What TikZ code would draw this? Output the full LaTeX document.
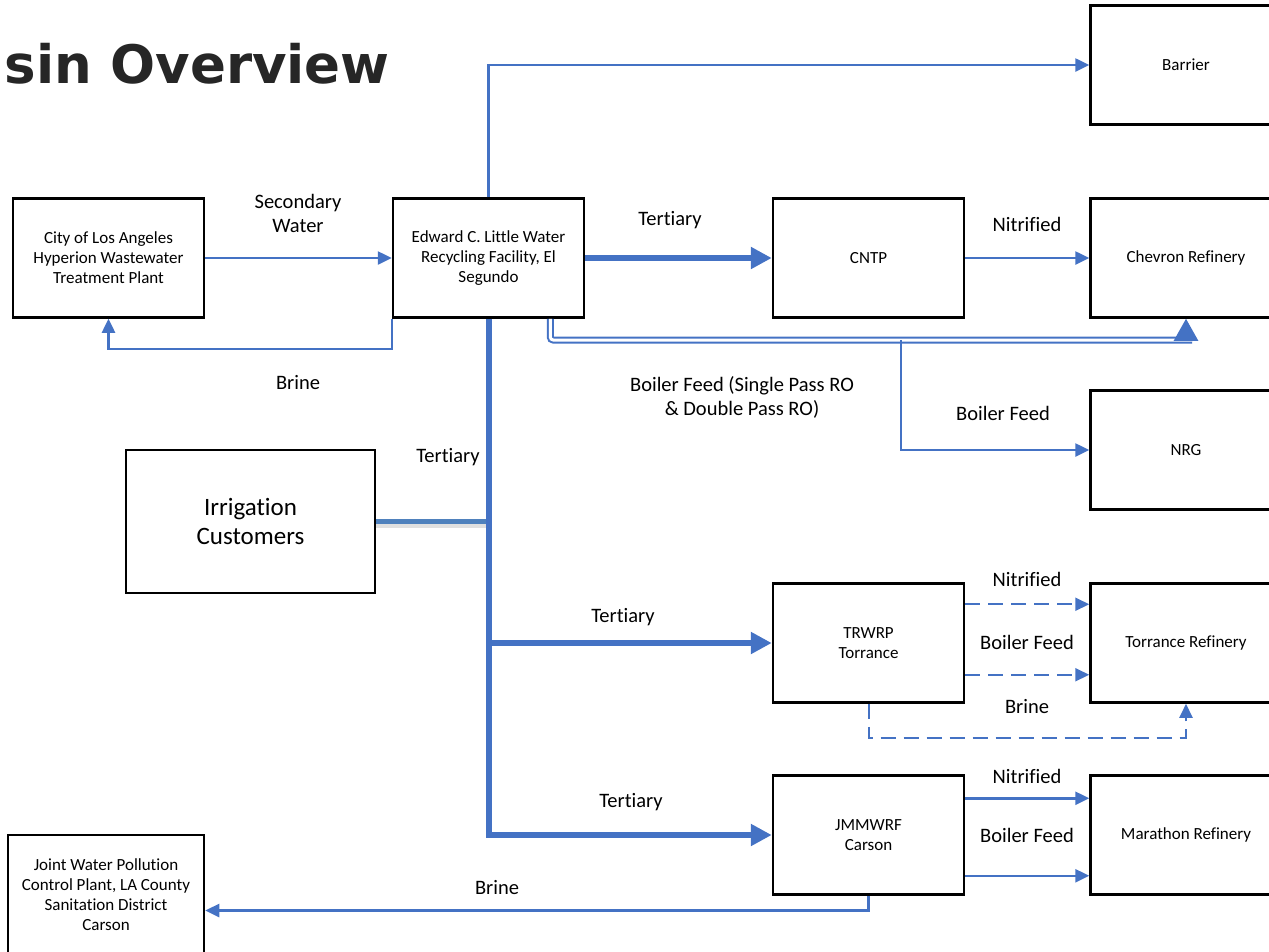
\documentclass[tikz,border=0pt]{standalone}
\usepackage{fontspec}
\setmainfont{Carlito}[Ligatures=NoCommon]
\newfontfamily\titlefont{DejaVu Sans}
\usetikzlibrary{arrows.meta,calc}
\definecolor{flow}{HTML}{4472C4}
\definecolor{irrblue}{HTML}{4F81BD}
\definecolor{titlegray}{HTML}{262626}
\begin{document}
\begin{tikzpicture}[x=1pt,y=-1pt,
  box/.style={draw=black,line width=2.5pt,minimum width=191pt,minimum height=119pt,inner sep=0pt,align=center,font=\fontsize{17}{20}\selectfont},
  lbl/.style={align=center,inner sep=0pt,font=\fontsize{20.5}{24}\selectfont},
  flowline/.style={draw=flow,line width=2.5pt,-{Triangle[length=14pt,width=13pt]}},
  dashflow/.style={draw=flow,line width=2pt,dash pattern=on 15pt off 8pt,-{Triangle[length=14pt,width=13pt]}},
  thickflow/.style={draw=flow,line width=6pt,-{Triangle[length=21pt,width=21pt]}},
  dblflow/.style={draw=flow,line width=2pt,double=white,double distance=3pt,rounded corners=3pt},
  irrline/.style={draw=irrblue,line width=4.5pt}
]
\useasboundingbox (0,0) rectangle (1269,951);
\clip (0,0) rectangle (1269,951);

% title
\node[anchor=base east,inner sep=0pt,text=titlegray,font=\titlefont\bfseries\fontsize{53}{60}\selectfont] (title) at (390,83) {Basin Overview};

% boxes
\node[box] (hyp) at (108.5,258) {City of Los Angeles\\Hyperion Wastewater\\Treatment Plant};
\node[box] (ecl) at (488.5,258) {Edward C. Little Water\\Recycling Facility, El\\Segundo};
\node[box] (bar) at (1186,65) {Barrier};
\node[box] (cntp) at (868.5,258) {CNTP};
\node[box] (chev) at (1186,258) {Chevron Refinery};
\node[box] (nrg) at (1186,450) {NRG};
\node[box,minimum width=249pt,minimum height=143pt,font=\fontsize{25}{29}\selectfont] (irr) at (250.5,521.5) {Irrigation\\Customers};
\node[box] (trw) at (868.5,643) {TRWRP\\Torrance};
\node[box] (tor) at (1186,643) {Torrance Refinery};
\node[box] (jmm) at (868.5,835) {JMMWRF\\Carson};
\node[box] (mar) at (1186,835) {Marathon Refinery};
\node[box,minimum width=196pt] (jnt) at (106,894.5) {Joint Water Pollution\\Control Plant, LA County\\Sanitation District\\Carson};

% connectors
\draw[flowline] (hyp.east) -- (ecl.west);
\draw[flowline] (ecl.south west) -- ++(0,30) -| (hyp.south);
\draw[flowline] (ecl.north) |- (bar.west);
\draw[thickflow] (ecl.east) -- (cntp.west);
\draw[flowline] (cntp.east) -- (chev.west);

\coordinate (bfjunc) at (901,340);
\draw[dblflow] ([xshift=-35pt]ecl.south east) |- ([xshift=6pt]bfjunc -| chev.south);
\draw[draw=flow,line width=2.5pt,-{Triangle[length=22pt,width=24pt]}] (bfjunc -| chev.south) -- (chev.south);
\draw[flowline] (bfjunc) |- (nrg.west);

% irrigation connector with soft shadow
\draw[line width=5pt,draw=black,opacity=0.12] ([yshift=-4pt]irr.east) -- ([yshift=-4pt]irr.east -| ecl.south);
\draw[irrline] (irr.east) -- (irr.east -| ecl.south);

\draw[thickflow] (ecl.south) |- (jmm.west);
\draw[thickflow] (ecl.south |- trw.west) -- (trw.west);

\draw[dashflow] ([yshift=-22pt]trw.north east) -- ([yshift=-22pt]tor.north west);
\draw[dashflow] ([yshift=29pt]trw.south east) -- ([yshift=29pt]tor.south west);
\draw[dashflow] (trw.south) -- ++(0,34) -| (tor.south);

\draw[flowline] ([yshift=-24pt]jmm.north east) -- ([yshift=-24pt]mar.north west);
\draw[flowline] ([yshift=20pt]jmm.south east) -- ([yshift=20pt]mar.south west);
\draw[flowline] (jmm.south) |- ([yshift=-16pt]jnt.east);

% labels
\node[lbl] (l1) at (298,213) {Secondary\\Water};
\node[lbl] (l2) at (298,383) {Brine};
\node[lbl] (l3) at (670,220) {Tertiary};
\node[lbl] (l4) at (1027,224) {Nitrified};
\node[lbl] (l5) at (742,397) {Boiler Feed (Single Pass RO\\\& Double Pass RO)};
\node[lbl] (l6) at (1003,413) {Boiler Feed};
\node[lbl] (l7) at (448,457) {Tertiary};
\node[lbl] (l8) at (623,617) {Tertiary};
\node[lbl] (l9) at (1027,579) {Nitrified};
\node[lbl] (l10) at (1027,642) {Boiler Feed};
\node[lbl] (l11) at (1027,707) {Brine};
\node[lbl] (l12) at (631,802) {Tertiary};
\node[lbl] (l13) at (1027,776) {Nitrified};
\node[lbl] (l14) at (1027,835) {Boiler Feed};
\node[lbl] (l15) at (497,888) {Brine};
\end{tikzpicture}
\end{document}
